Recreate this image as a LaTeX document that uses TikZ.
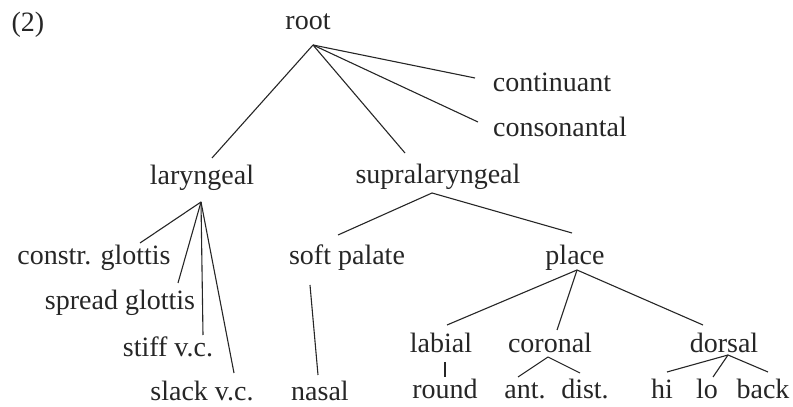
\documentclass[tikz,border=0pt]{standalone}
\usepackage{fontspec}
\setmainfont{Liberation Serif}
\usetikzlibrary{calc}
\definecolor{tinta}{RGB}{38, 38, 38}

\begin{document}
\begin{tikzpicture}[x=1pt, y=1pt,
    rasgo/.style={anchor=base, inner sep=0pt, text=tinta,
        font=\fontsize{28}{32}\selectfont},
    rama/.style={tinta, line width=1.1pt}]

    % Marco fijo con las proporciones de la figura
    \useasboundingbox (0,0) rectangle (793,407);

    % --- Nodos del árbol (nombre, x, y de la línea base, texto) ---
    \foreach \n/\x/\y/\t in {
        num/28/375/(2),
        root/308/377/root,
        cont/552/315/continuant,
        cons/560/270/consonantal,
        lar/202/222/laryngeal,
        supra/438/223/supralaryngeal,
        cg/94/142/constr. glottis,
        sg/120/97/spread glottis,
        stiff/168/50/stiff v.c.,
        slack/202/6/slack v.c.,
        soft/347/142/soft palate,
        place/575/142/place,
        nasal/320/6/nasal,
        labial/441/54/labial,
        coronal/550/54/coronal,
        dorsal/724/54/dorsal,
        round/445/8/round,
        ant/525/8/ant.,
        dist/585/8/dist.,
        hi/662/8/hi,
        lo/707/8/lo,
        back/763/8/back}{
        \node[rasgo] (\n) at (\x, \y) {\t};
    }

    % --- Vértices de donde salen las ramas ---
    \foreach \n/\dx/\dy in {
        root/5/-15, lar/-1/-17, supra/-6/-9, soft/-37/-20,
        place/2/-5, labial/4/-9, coronal/-2/-4, dorsal/4/-2}{
        \coordinate (\n-a) at ($(\n.base) + (\dx, \dy)$);
    }

    % --- Ramas: del vértice del padre hasta encima del hijo ---
    \foreach \p/\c/\dx/\dy in {
        root/lar/10/27, root/supra/-33/31,
        root/cons/-82/15, root/cont/-77/14,
        lar/cg/46/22, lar/sg/58/27, lar/stiff/35/22, lar/slack/32/28,
        supra/soft/-9/30, supra/place/-3/32,
        soft/nasal/-2/26,
        place/labial/6/28, place/coronal/7/23, place/dorsal/-21/28,
        labial/round/0/22,
        coronal/ant/-7/22, coronal/dist/-5/26,
        dorsal/hi/5/27, dorsal/lo/6/22, dorsal/back/5/27}{
        \draw[rama] (\p-a) -- ($(\c.base) + (\dx, \dy)$);
    }

\end{tikzpicture}
\end{document}
